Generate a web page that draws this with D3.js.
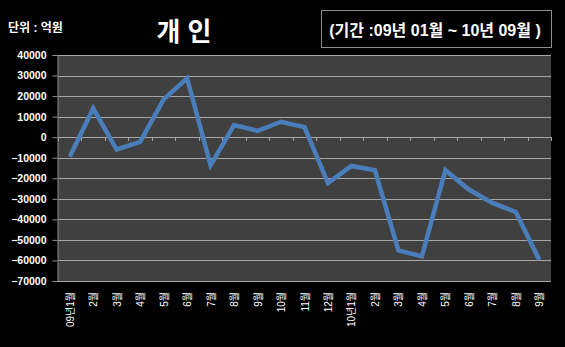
<!DOCTYPE html>
<html>
<head>
<meta charset="utf-8">
<script src="https://cdn.jsdelivr.net/npm/d3@7"></script>
<style>
  html, body { margin: 0; padding: 0; background: #000; }
  svg { display: block; }
  text { font-family: "Liberation Sans", "Noto Sans CJK KR", sans-serif; }
</style>
</head>
<body>
<svg id="chart" width="565" height="347"></svg>
<script>
// Monthly net flow for individuals (unit: 억원), Jan 2009 – Sep 2010
const months = ["09년1월","2월","3월","4월","5월","6월","7월","8월","9월","10월","11월","12월",
                "10년1월","2월","3월","4월","5월","6월","7월","8월","9월"];
const values = [-9500, 14000, -6000, -2300, 18400, 28600, -13700, 5900, 3100, 7500, 4900, -22300,
                -14000, -16100, -55100, -58000, -16100, -25500, -32000, -36400, -59700];
const yTicks = [40000, 30000, 20000, 10000, 0, -10000, -20000, -30000, -40000, -50000, -60000, -70000];

const svg = d3.select("#chart");
const plot = { left: 58, right: 551, top: 55, bottom: 281 };

const x = d3.scaleBand().domain(d3.range(months.length)).range([plot.left, plot.right]);
const y = d3.scaleLinear().domain([-70000, 40000]).range([plot.bottom, plot.top]);

// Plot background
svg.append("rect")
  .attr("x", plot.left).attr("y", plot.top)
  .attr("width", plot.right - plot.left).attr("height", plot.bottom - plot.top)
  .attr("fill", "#404040");

// Horizontal gridlines
svg.append("g").selectAll("line").data(yTicks).join("line")
  .attr("x1", plot.left).attr("x2", plot.right)
  .attr("y1", d => Math.round(y(d)) + 0.5).attr("y2", d => Math.round(y(d)) + 0.5)
  .attr("stroke", "#a6a6a6").attr("stroke-width", 1);

// Value axis
const yAxis = svg.append("g")
  .attr("transform", `translate(${plot.left - 0.5},0)`)
  .call(d3.axisLeft(y).tickValues(yTicks).tickSize(5).tickPadding(6).tickFormat(d3.format("d")));
yAxis.select(".domain").attr("stroke", "#8c8c8c");
yAxis.selectAll(".tick line").attr("stroke", "#8c8c8c");
yAxis.selectAll(".tick text").attr("fill", "#ffffff").attr("font-size", 10.5).attr("font-weight", "bold");

// Category axis crosses at zero: tick marks on the zero line
const boundaries = d3.range(months.length + 1).map(i => plot.left + i * x.step());
svg.append("g").selectAll("line").data(boundaries).join("line")
  .attr("x1", d => Math.round(d) + 0.5).attr("x2", d => Math.round(d) + 0.5)
  .attr("y1", Math.round(y(0))).attr("y2", Math.round(y(0)) + 4)
  .attr("stroke", "#a6a6a6");

// Category labels, rotated, along the bottom
svg.append("g").selectAll("text").data(months).join("text")
  .attr("transform", (d, i) => `translate(${x(i) + x.bandwidth() / 2 + 4},292) rotate(-90)`)
  .attr("text-anchor", "end")
  .attr("fill", "#ffffff")
  .attr("font-size", 10)
  .text(d => d);

// Series line
const line = d3.line()
  .x((d, i) => x(i) + x.bandwidth() / 2)
  .y(d => y(d));
svg.append("path")
  .datum(values)
  .attr("d", line)
  .attr("fill", "none")
  .attr("stroke", "#4a7ebb")
  .attr("stroke-width", 4.5)
  .attr("stroke-linejoin", "miter");

// Titles
svg.append("text")
  .attr("x", 8).attr("y", 32)
  .attr("fill", "#ffffff").attr("font-size", 12).attr("font-weight", "bold")
  .text("단위 : 억원");

svg.append("text")
  .attr("x", 184).attr("y", 41)
  .attr("text-anchor", "middle")
  .attr("fill", "#ffffff").attr("font-size", 26).attr("font-weight", "bold")
  .text("개 인");

svg.append("rect")
  .attr("x", 321.5).attr("y", 10.5).attr("width", 230).attr("height", 37)
  .attr("fill", "none").attr("stroke", "#8c8c8c");
svg.append("text")
  .attr("x", 435).attr("y", 35.5)
  .attr("text-anchor", "middle")
  .attr("fill", "#ffffff").attr("font-size", 16).attr("font-weight", "bold")
  .text("(기간 :09년 01월 ~ 10년 09월 )");
</script>
</body>
</html>
